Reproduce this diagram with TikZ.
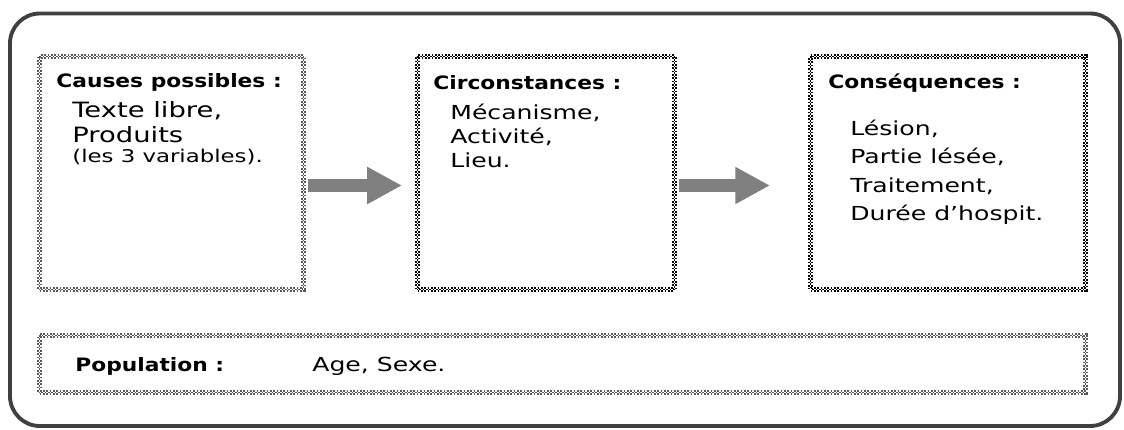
\documentclass[tikz,border=0pt]{standalone}
\usepackage{fontspec}
\setmainfont{DejaVu Sans}[FakeStretch=1.3]
\newfontfamily\headfont{DejaVu Sans}[FakeStretch=1.18]
\usetikzlibrary{arrows.meta,calc}

\begin{document}
\begin{tikzpicture}[
    x=0.02cm, y=-0.02cm,
    frame/.style={draw=black!75, line width=2.2pt, rounded corners=17pt},
    checkbox/.style={rectangle, fill=white, inner sep=0pt, draw=#1, line width=2.85pt,
      dash pattern=on .95pt off .95pt,
      postaction={draw=white, line width=.95pt, solid},
      postaction={draw=#1, line width=.95pt, dash pattern=on .95pt off .95pt, dash phase=.95pt}},
    title/.style={anchor=base west, inner sep=0pt, font=\headfont\bfseries\fontsize{10.5}{12}\selectfont},
    item/.style={anchor=base west, inner sep=0pt, font=\fontsize{11}{13}\selectfont},
    flow/.style={draw=gray, line width=7.4pt, -{Triangle[length=19.8pt, width=19.8pt]}}
  ]
    \useasboundingbox (0,0) rectangle (1124,429);

    % Outer frame
    \draw[frame] (10,13.5) rectangle (1120,426);

    % Boxes
    \node[checkbox=black!65, minimum width=5.28cm, minimum height=4.66cm] (causes) at (171.5,173) {};
    \node[checkbox=black, minimum width=5.14cm, minimum height=4.66cm] (circ) at (546,173) {};
    \node[checkbox=black, minimum width=5.50cm, minimum height=4.66cm] (cons) at (948,173) {};
    \node[checkbox=black!65, minimum width=20.92cm, minimum height=1.14cm] (pop) at (562.5,364) {};

    % Causes
    \node[title] (causesT) at (56,88) {Causes possibles :};
    \node[item, font=\fontsize{12}{14}\selectfont] (causes1) at (72,117) {Texte libre,};
    \node[item, font=\fontsize{12}{14}\selectfont] (causes2) at (72,142) {Produits};
    \node[item, font=\fontsize{10}{12}\selectfont] (causes3) at (72,162) {(les 3 variables).};

    % Circonstances
    \node[title] (circT) at (433,90) {Circonstances :};
    \foreach \t [count=\i] in {{Mécanisme,}, {Activité,}, {Lieu.}}
      \node[item] (circ\i) at (450,95+24*\i) {\t};

    % Consequences
    \node[title] (consT) at (828,89) {Conséquences :};
    \foreach \t [count=\i] in {{Lésion,}, {Partie lésée,}, {Traitement,}, {Durée d’hospit.}}
      \node[item] (cons\i) at (850,106.5+28.5*\i) {\t};

    % Population
    \node[title] (popT) at (75,371) {Population :};
    \node[item] (pop1) at (312,371) {Age, Sexe.};

    % Arrows
    \draw[flow] ($(causes.east)+(2.5,12.5)$) -- ($(circ.west)+(-13,12.5)$);
    \draw[flow] ($(circ.east)+(2.5,12.5)$) -- ($(cons.west)+(-38,12.5)$);

  \end{tikzpicture}
\end{document}
